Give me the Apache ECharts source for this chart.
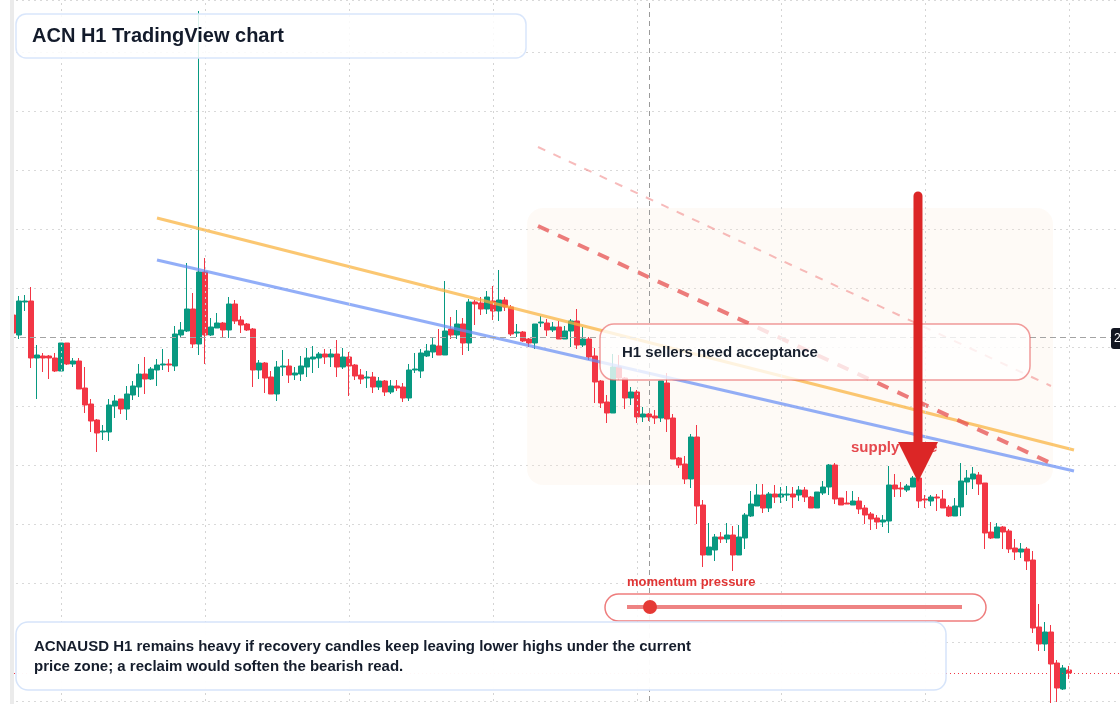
<!DOCTYPE html>
<html><head><meta charset="utf-8">
<script src="https://cdn.jsdelivr.net/npm/echarts@6/dist/echarts.min.js"></script>
<style>html,body{margin:0;padding:0;background:#fff}#c{width:1120px;height:704px}</style>
</head><body><div id="c"></div><script>
// ---- data (ACN H1 candles) ----
const opens = [242.22,242.02,242.35,242.36,241.79,241.81,241.81,241.79,241.66,241.94,
241.73,241.76,241.49,241.33,241.17,241.05,241.05,241.31,241.38,241.28,
241.42,241.50,241.63,241.58,241.67,241.72,241.73,241.71,242.02,242.06,
242.28,241.93,242.65,242.02,242.09,242.14,242.07,242.33,242.17,242.13,
242.08,241.67,241.74,241.60,241.43,241.70,241.71,241.62,241.63,241.70,
241.78,241.79,241.83,241.80,241.83,241.70,241.80,241.72,241.62,241.59,
241.60,241.50,241.56,241.45,241.51,241.50,241.39,241.67,241.66,241.81,
241.85,241.91,241.82,242.08,242.02,242.13,241.94,242.35,242.34,242.28,
242.36,242.26,242.37,242.30,242.04,242.05,241.98,241.94,242.14,242.14,
242.07,242.10,241.98,242.06,242.16,241.92,241.98,241.81,241.56,241.35,
241.24,241.70,241.59,241.39,241.45,241.20,241.23,241.21,241.19,241.54,
241.19,240.79,240.73,240.58,241.00,240.32,239.82,239.87,240.00,239.98,
240.02,239.82,239.99,240.21,240.31,240.42,240.29,240.43,240.40,240.42,
240.43,240.42,240.47,240.40,240.29,240.44,240.50,240.72,240.39,240.34,
240.32,240.36,240.29,240.23,240.19,240.15,240.16,240.52,240.49,240.47,
240.50,240.59,240.38,240.36,240.40,240.38,240.30,240.21,240.30,240.55,
240.58,240.62,240.54,240.05,239.99,240.10,240.06,239.89,239.85,239.88,
239.77,239.10,238.93,239.05,238.74,238.48,238.67];
const closes = [242.04,242.36,242.36,241.79,241.82,241.79,241.79,241.66,241.94,241.73,
241.76,241.48,241.32,241.16,241.04,241.06,241.32,241.36,241.28,241.43,
241.51,241.63,241.58,241.68,241.72,241.73,241.72,242.03,242.07,242.28,
241.93,242.65,242.02,242.10,242.14,242.07,242.33,242.16,242.12,242.07,
241.67,241.74,241.59,241.43,241.70,241.71,241.62,241.64,241.71,241.79,
241.80,241.83,241.80,241.83,241.70,241.80,241.71,241.61,241.58,241.60,
241.50,241.56,241.45,241.51,241.49,241.39,241.67,241.68,241.84,241.86,
241.92,241.82,242.06,242.02,242.13,241.94,242.35,242.33,242.28,242.40,
242.26,242.37,242.30,242.03,242.05,241.96,241.94,242.13,242.15,242.07,
242.10,241.98,242.06,242.16,241.92,241.98,241.80,241.55,241.34,241.24,
241.70,241.59,241.39,241.45,241.20,241.23,241.20,241.19,241.56,241.18,
240.78,240.72,240.58,241.00,240.31,239.82,239.90,240.00,239.98,240.02,
239.82,240.00,240.22,240.33,240.42,240.29,240.43,240.40,240.43,240.43,
240.40,240.47,240.40,240.29,240.45,240.50,240.72,240.38,240.32,240.33,
240.36,240.28,240.22,240.18,240.15,240.17,240.52,240.48,240.48,240.51,
240.59,240.36,240.37,240.40,240.39,240.29,240.21,240.31,240.56,240.59,
240.63,240.53,240.04,239.99,240.10,240.05,239.88,239.85,239.88,239.76,
239.09,238.93,239.05,238.73,238.49,238.69,238.64];
const lows = [242.01,241.98,242.26,241.69,241.38,241.65,241.58,241.65,241.66,241.72,
241.70,241.48,241.24,241.05,240.85,240.97,240.96,241.19,241.23,241.17,
241.37,241.40,241.43,241.57,241.51,241.67,241.65,241.66,241.99,242.05,
241.89,241.82,241.73,242.01,242.09,242.00,241.99,242.13,242.04,242.06,
241.50,241.58,241.44,241.43,241.36,241.61,241.54,241.57,241.56,241.60,
241.64,241.69,241.73,241.70,241.60,241.68,241.41,241.57,241.53,241.49,
241.44,241.47,241.41,241.43,241.46,241.35,241.36,241.64,241.59,241.80,
241.79,241.82,241.82,241.98,241.98,241.82,241.86,242.12,242.22,242.23,
242.17,242.16,242.26,242.01,242.00,241.95,241.90,241.88,242.10,242.01,
242.05,241.98,241.98,241.90,241.88,241.90,241.77,241.34,241.29,241.14,
241.24,241.57,241.28,241.32,241.14,241.15,241.16,241.13,241.15,241.05,
240.78,240.69,240.53,240.49,240.13,239.70,239.82,239.76,239.94,239.94,
239.66,239.82,239.88,240.20,240.31,240.24,240.25,240.34,240.34,240.36,
240.29,240.36,240.35,240.29,240.29,240.42,240.42,240.33,240.32,240.33,
240.32,240.23,240.13,240.07,240.08,240.10,240.04,240.40,240.40,240.45,
240.50,240.29,240.29,240.31,240.26,240.29,240.20,240.21,240.21,240.42,
240.48,240.42,239.88,239.98,239.99,239.88,239.84,239.77,239.79,239.67,
239.04,238.86,238.86,238.34,238.35,238.47,238.58];
const highs = [242.25,242.41,242.42,242.50,241.92,241.84,241.82,241.84,241.94,241.94,
241.79,241.79,241.70,241.38,241.18,241.12,241.38,241.42,241.38,241.51,
241.56,241.73,241.80,241.70,241.78,241.88,241.78,242.11,242.15,242.74,
242.44,245.26,242.79,242.19,242.24,242.15,242.40,242.37,242.21,242.14,
242.09,241.77,241.75,241.66,241.76,241.87,241.78,241.70,241.81,241.89,
241.91,241.85,241.88,241.88,241.97,241.89,241.85,241.73,241.68,241.66,
241.65,241.60,241.57,241.57,241.57,241.54,241.73,241.84,241.88,241.93,
242.00,242.08,242.56,242.20,242.27,242.19,242.38,242.37,242.40,242.46,
242.51,242.67,242.40,242.32,242.13,242.06,241.99,242.13,242.21,242.18,
242.15,242.16,242.11,242.18,242.28,242.10,242.00,241.89,241.57,241.42,
241.83,241.82,241.60,241.50,241.47,241.30,241.24,241.27,241.56,241.64,
241.23,240.80,240.81,241.03,241.12,240.37,240.14,240.03,240.05,240.14,
240.11,240.12,240.24,240.46,240.53,240.53,240.45,240.52,240.50,240.51,
240.50,240.51,240.50,240.41,240.45,240.56,240.73,240.74,240.39,240.46,
240.46,240.40,240.32,240.25,240.22,240.22,240.71,240.63,240.55,240.53,
240.61,240.62,240.42,240.42,240.43,240.47,240.32,240.39,240.74,240.67,
240.70,240.65,240.54,240.15,240.14,240.11,240.08,239.98,239.94,239.90,
239.86,239.33,239.15,239.12,238.77,238.72,238.71];
const emptySlots = 8;                 // blank hours to the right of the last candle
const yMin = 238.36, yMax = 245.37, yStep = 0.59;
const priceLevel = 242.00;            // grey dashed reference level
const lastClose = closes[closes.length - 1];
const dayStartIdx = [8, 32, 56, 80, 104, 128, 152, 176];
const crosshairIdx = 106;
// trend lines: [barIndex, price]
const orangeLine = [[24, 243.19], [176.83, 240.87]];
const blueLine = [[24, 242.77], [176.83, 240.66]];
const faintDash = [[87.5, 243.90], [173, 241.51]];
const strongDash = [[87.5, 243.11], [173.67, 240.72]];
// zone: [x0, x1, priceTop, priceBottom]
const zone = [[85.67, 173.33, 243.29, 240.52]];
// arrow: [x, priceTop, priceNeck, priceTip]
const arrow = [[150.83, 243.41, 240.95, 240.55]];

const n = opens.length;
const categories = [];
for (let i = 0; i < n + emptySlots; i++) categories.push('h' + i);
const candleData = opens.map((o, i) => [o, closes[i], lows[i], highs[i]]);
for (let i = 0; i < emptySlots; i++) candleData.push('-');

const chart = echarts.init(document.getElementById('c'), null, {renderer: 'canvas'});
const FONT = '"Liberation Sans", Arial, sans-serif';
const gridDots = {color: '#d9d9d9', type: [2, 4], width: 1};

const option = {
  animation: false,
  backgroundColor: '#ffffff',
  grid: {left: 10, right: 0, top: 0, bottom: 3},
  xAxis: [
    {type: 'category', data: categories, boundaryGap: true, axisLine: {show: false}, axisTick: {show: false}, axisLabel: {show: false}, splitLine: {show: false}},
    {type: 'value', min: -0.5, max: n + emptySlots - 0.5, show: false, splitLine: {show: false}}
  ],
  yAxis: {type: 'value', min: yMin, max: yMax, interval: yStep, axisLine: {show: false}, axisTick: {show: false}, axisLabel: {show: false}, splitLine: {show: true, lineStyle: gridDots}},
  series: [
    {
      type: 'custom', xAxisIndex: 1, yAxisIndex: 0, z: 1, silent: true, clip: false,
      data: zone,
      renderItem: (p, api) => {
        const a = api.coord([api.value(0), api.value(2)]);
        const b = api.coord([api.value(1), api.value(3)]);
        return {type: 'rect', shape: {x: a[0], y: a[1], width: b[0] - a[0], height: b[1] - a[1], r: 16}, style: {fill: 'rgba(250,232,215,0.22)'}};
      }
    },
    {
      type: 'line', xAxisIndex: 1, data: [], silent: true, z: 1,
      markLine: {silent: true, symbol: 'none', label: {show: false},
        data: dayStartIdx.map(v => ({xAxis: v, lineStyle: {color: '#d4d4d4', type: [2, 4], width: 1}}))
          .concat([{xAxis: crosshairIdx, lineStyle: {color: '#9a9a9a', type: [5, 4], width: 1}}])}
    },
    {
      type: 'candlestick', xAxisIndex: 0, yAxisIndex: 0, z: 2, clip: false, barWidth: 5,
      data: candleData,
      itemStyle: {color: '#089981', color0: '#f23645', borderColor: '#089981', borderColor0: '#f23645', borderWidth: 1},
      markLine: {silent: true, symbol: 'none', label: {show: false},
        data: [
          {yAxis: priceLevel, lineStyle: {color: '#a3a3a3', type: [6, 4], width: 1.2}},
          {yAxis: lastClose, lineStyle: {color: '#f23645', type: [1, 3], width: 1}}
        ]}
    },
    {type: 'line', xAxisIndex: 1, data: orangeLine, showSymbol: false, silent: true, z: 3, lineStyle: {color: 'rgba(249,178,60,0.72)', width: 3}},
    {type: 'line', xAxisIndex: 1, data: blueLine, showSymbol: false, silent: true, z: 3, lineStyle: {color: 'rgba(100,140,245,0.7)', width: 3}},
    {type: 'line', xAxisIndex: 1, data: faintDash, showSymbol: false, silent: true, z: 3, lineStyle: {color: 'rgba(240,120,120,0.5)', width: 2, type: [8, 9]}},
    {type: 'line', xAxisIndex: 1, data: strongDash, showSymbol: false, silent: true, z: 3, lineStyle: {color: 'rgba(230,80,80,0.75)', width: 4, type: [12, 10]}},
    {
      type: 'custom', xAxisIndex: 1, yAxisIndex: 0, z: 200, silent: true, clip: false,
      data: arrow,
      renderItem: (p, api) => {
        const top = api.coord([api.value(0), api.value(1)]);
        const neck = api.coord([api.value(0), api.value(2)]);
        const tip = api.coord([api.value(0), api.value(3)]);
        return {type: 'group', children: [
          {type: 'line', shape: {x1: top[0], y1: top[1], x2: neck[0], y2: neck[1] + 4}, style: {stroke: '#dc2626', lineWidth: 9, lineCap: 'round'}},
          {type: 'polygon', shape: {points: [[neck[0] - 20, neck[1]], [neck[0] + 20, neck[1]], [tip[0], tip[1]]]}, style: {fill: '#dc2626'}}
        ]};
      }
    }
  ],
  graphic: [
    {type: 'rect', z: 50, shape: {x: 10, y: 0, width: 4, height: 704}, style: {fill: '#ebebeb'}},
    {type: 'rect', z: 100, shape: {x: 16, y: 14, width: 510, height: 44, r: 10}, style: {fill: 'rgba(255,255,255,0.86)', stroke: '#d9e6fb', lineWidth: 1.5}},
    {type: 'text', z: 101, x: 32, y: 36, style: {text: 'ACN H1 TradingView chart', font: 'bold 20px ' + FONT, fill: '#131b2b', verticalAlign: 'middle'}},
    {type: 'rect', z: 100, shape: {x: 600, y: 324, width: 430, height: 56, r: 14}, style: {fill: 'rgba(255,255,255,0.78)', stroke: 'rgba(232,90,90,0.6)', lineWidth: 1.5}},
    {type: 'text', z: 101, x: 622, y: 353, style: {text: 'H1 sellers need acceptance', font: 'bold 15px ' + FONT, fill: '#18202e', verticalAlign: 'middle'}},
    {type: 'text', z: 101, x: 851, y: 448, style: {text: 'supply zone', font: 'bold 15px ' + FONT, fill: '#e5484d', verticalAlign: 'middle'}},
    {type: 'text', z: 101, x: 627, y: 582, style: {text: 'momentum pressure', font: 'bold 13px ' + FONT, fill: '#e03535', verticalAlign: 'middle'}},
    {type: 'rect', z: 100, shape: {x: 605, y: 594, width: 381, height: 27, r: 13.5}, style: {fill: 'rgba(255,255,255,0.9)', stroke: 'rgba(232,80,80,0.75)', lineWidth: 1.5}},
    {type: 'line', z: 101, shape: {x1: 627, y1: 607, x2: 962, y2: 607}, style: {stroke: 'rgba(232,90,90,0.75)', lineWidth: 4}},
    {type: 'circle', z: 102, shape: {cx: 650, cy: 607, r: 7}, style: {fill: '#e53935'}},
    {type: 'rect', z: 100, shape: {x: 16, y: 622, width: 930, height: 68, r: 12}, style: {fill: 'rgba(255,255,255,0.96)', stroke: '#d6e4fa', lineWidth: 1.5}},
    {type: 'text', z: 101, x: 34, y: 647, style: {text: 'ACNAUSD H1 remains heavy if recovery candles keep leaving lower highs under the current', font: 'bold 15px ' + FONT, fill: '#151d2c', verticalAlign: 'middle'}},
    {type: 'text', z: 101, x: 34, y: 667, style: {text: 'price zone; a reclaim would soften the bearish read.', font: 'bold 15px ' + FONT, fill: '#151d2c', verticalAlign: 'middle'}},
    {type: 'rect', z: 100, shape: {x: 1111, y: 328, width: 60, height: 21, r: 3}, style: {fill: '#131722'}},
    {type: 'text', z: 101, x: 1114, y: 338.5, style: {text: priceLevel.toFixed(2), font: '12px ' + FONT, fill: '#ffffff', verticalAlign: 'middle'}}
  ]
};
chart.setOption(option);
</script></body></html>
